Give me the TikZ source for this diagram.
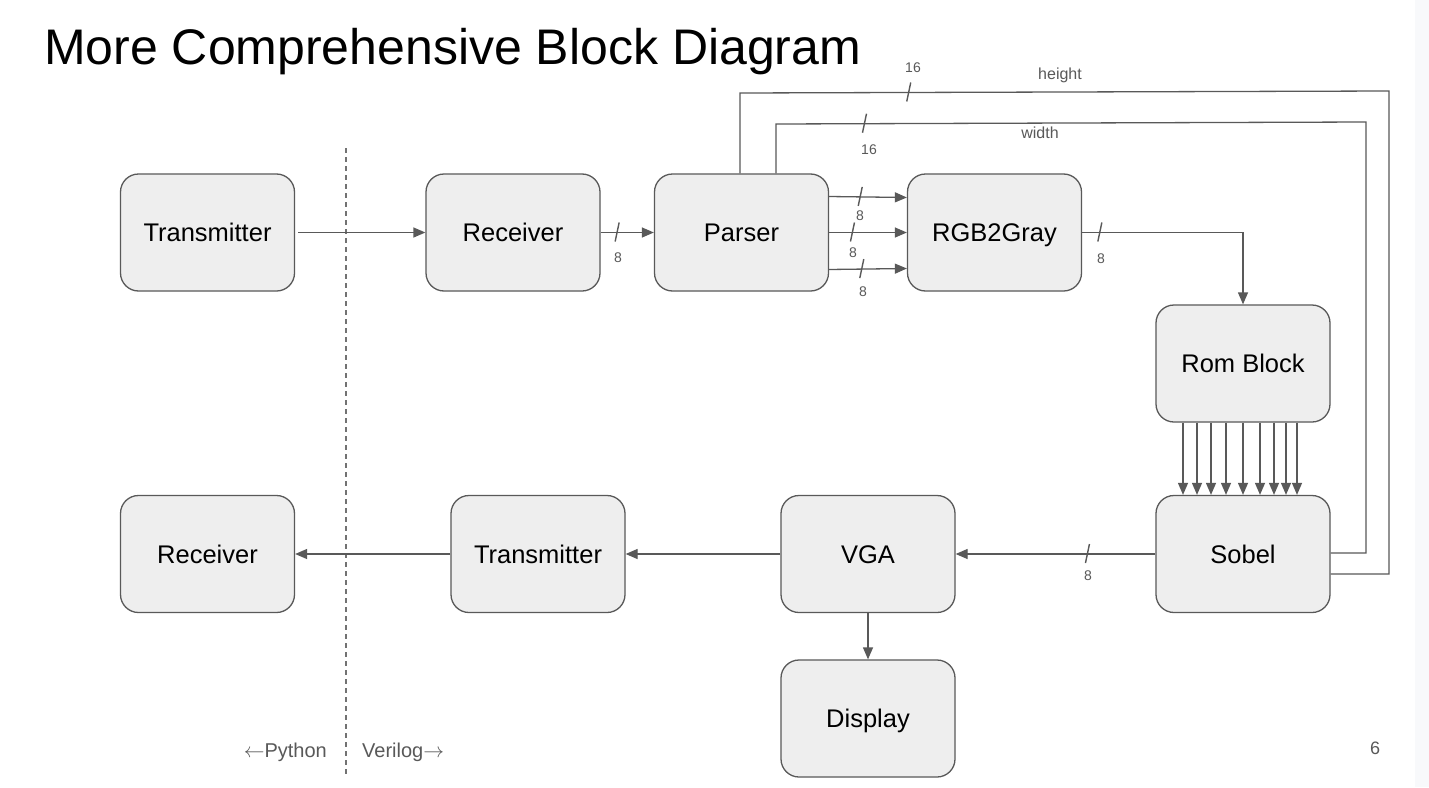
\documentclass[tikz,border=0pt]{standalone}
\usepackage{fontspec}
\setmainfont{Liberation Sans}
\usetikzlibrary{arrows.meta}
\definecolor{boxfill}{HTML}{EEEEEE}
\definecolor{boxline}{HTML}{595959}
\definecolor{edgecol}{HTML}{595959}
\definecolor{labcol}{HTML}{595959}
\definecolor{stripcol}{HTML}{F8F9FB}
\tikzset{
  block/.style={draw=boxline, fill=boxfill, line width=1.3pt, rounded corners=18pt,
    minimum width=174pt, minimum height=117pt, inner sep=0pt,
    text height=18pt, text depth=0pt,
    font=\fontsize{25.5}{30}\selectfont, text=black},
  edge/.style={draw=edgecol, line width=1.3pt},
  arr/.style={edge, -{Triangle[length=12pt,width=10pt]}},
  slashmark/.style={draw=edgecol, line width=1.4pt},
  buslabel/.style={font=\fontsize{14}{16}\selectfont, text=labcol, inner sep=0pt},
  sidelabel/.style={font=\fontsize{20}{24}\selectfont, text=labcol, inner sep=0pt},
}
\newcommand{\busslash}[1]{\draw[slashmark] ([shift={(2,-10)}]#1) -- ([shift={(-2,9)}]#1);}
\begin{document}
\begin{tikzpicture}[x=1pt, y=-1pt]
\useasboundingbox (0,0) rectangle (1429,787);
\fill[white] (0,0) rectangle (1429,787);
\fill[stripcol] (1415,0) rectangle (1429,787);

\node[anchor=base west, inner sep=0pt, font=\fontsize{50}{60}\selectfont] (title) at (44,64) {More Comprehensive Block Diagram};

% blocks
\node[block] (tx1) at (207.5,232.5) {Transmitter};
\node[block] (rx1) at (513,232.5) {Receiver};
\node[block] (parser) at (741.5,232.5) {Parser};
\node[block] (rgb) at (994.5,232.5) {RGB2Gray};
\node[block] (rom) at (1243,363.5) {Rom Block};
\node[block] (sobel) at (1243,554) {Sobel};
\node[block] (vga) at (868,554) {VGA};
\node[block] (tx2) at (538,554) {Transmitter};
\node[block] (rx2) at (207.5,554) {Receiver};
\node[block] (disp) at (868,718.5) {Display};

% divider
\coordinate (divtop) at (346,148);
\coordinate (divbot) at (346,777);
\draw[draw=edgecol!85, line width=1.3pt, dash pattern=on 5pt off 4pt] (divtop) -- (divbot);
\node[sidelabel, anchor=base east] (py) at (327,757) {$\leftarrow$Python};
\node[sidelabel, anchor=base west] (vl) at (362,757) {Verilog$\rightarrow$};
\node[font=\fontsize{18}{21}\selectfont, text=labcol, inner sep=0pt] (pg) at (1375,748) {6};

% top row
\draw[arr] ([xshift=3pt]tx1.east) -- (rx1.west);
\draw[arr] (rx1.east) -- coordinate[pos=0.31] (s1) (parser.west);
\busslash{s1}
\node[buslabel] at (618,258) {8};

\draw[arr] ([yshift=36pt]parser.east) -- coordinate[pos=0.4] (s2) ([yshift=35pt]rgb.west);
\busslash{s2}
\node[buslabel] at (860,216) {8};
\draw[arr] (parser.east) -- coordinate[pos=0.3] (s3) (rgb.west);
\busslash{s3}
\node[buslabel] at (853,253) {8};
\draw[arr] ([yshift=-37pt]parser.east) -- coordinate[pos=0.42] (s4) ([yshift=-36pt]rgb.west);
\busslash{s4}
\node[buslabel] at (863,292) {8};

\draw[arr] (rgb.east) -- coordinate[pos=0.11] (s5) (rgb.east -| rom.north) -- (rom.north);
\busslash{s5}
\node[buslabel] at (1101,259) {8};

% height bus
\coordinate (h1) at (740,93);
\coordinate (h2) at (1389,91);
\coordinate (h3) at (1389,574);
\draw[edge] ([xshift=-1.5pt]parser.north) -- (h1) -- coordinate[pos=0.26] (s6) (h2) -- (h3) -- (h3 -| sobel.east);
\busslash{s6}
\node[buslabel] at (913,68) {16};
\node[font=\fontsize{16}{19}\selectfont, text=labcol, inner sep=0pt] at (1060,75) {height};

% width bus
\coordinate (w1) at (776,124);
\coordinate (w2) at (1366,122);
\coordinate (w3) at (1366,553);
\draw[edge] ([xshift=34.5pt]parser.north) -- (w1) -- coordinate[pos=0.15] (s7) (w2) -- (w3) -- (w3 -| sobel.east);
\busslash{s7}
\node[buslabel] at (869,150) {16};
\node[font=\fontsize{16}{19}\selectfont, text=labcol, inner sep=0pt] at (1040,133) {width};

% rom -> sobel (9 lines)
\foreach \xx in {1183,1197,1211,1226,1243,1260,1274,1286,1297} {
  \draw[arr] (rom.south -| \xx,0) -- (sobel.north -| \xx,0);
}

% bottom row
\draw[arr] (sobel.west) -- coordinate[pos=0.34] (s8) (vga.east);
\busslash{s8}
\node[buslabel] at (1088,576) {8};
\draw[arr] (vga.west) -- (tx2.east);
\draw[arr] (tx2.west) -- (rx2.east);
\draw[arr] (vga.south) -- (disp.north);
\end{tikzpicture}
\end{document}
